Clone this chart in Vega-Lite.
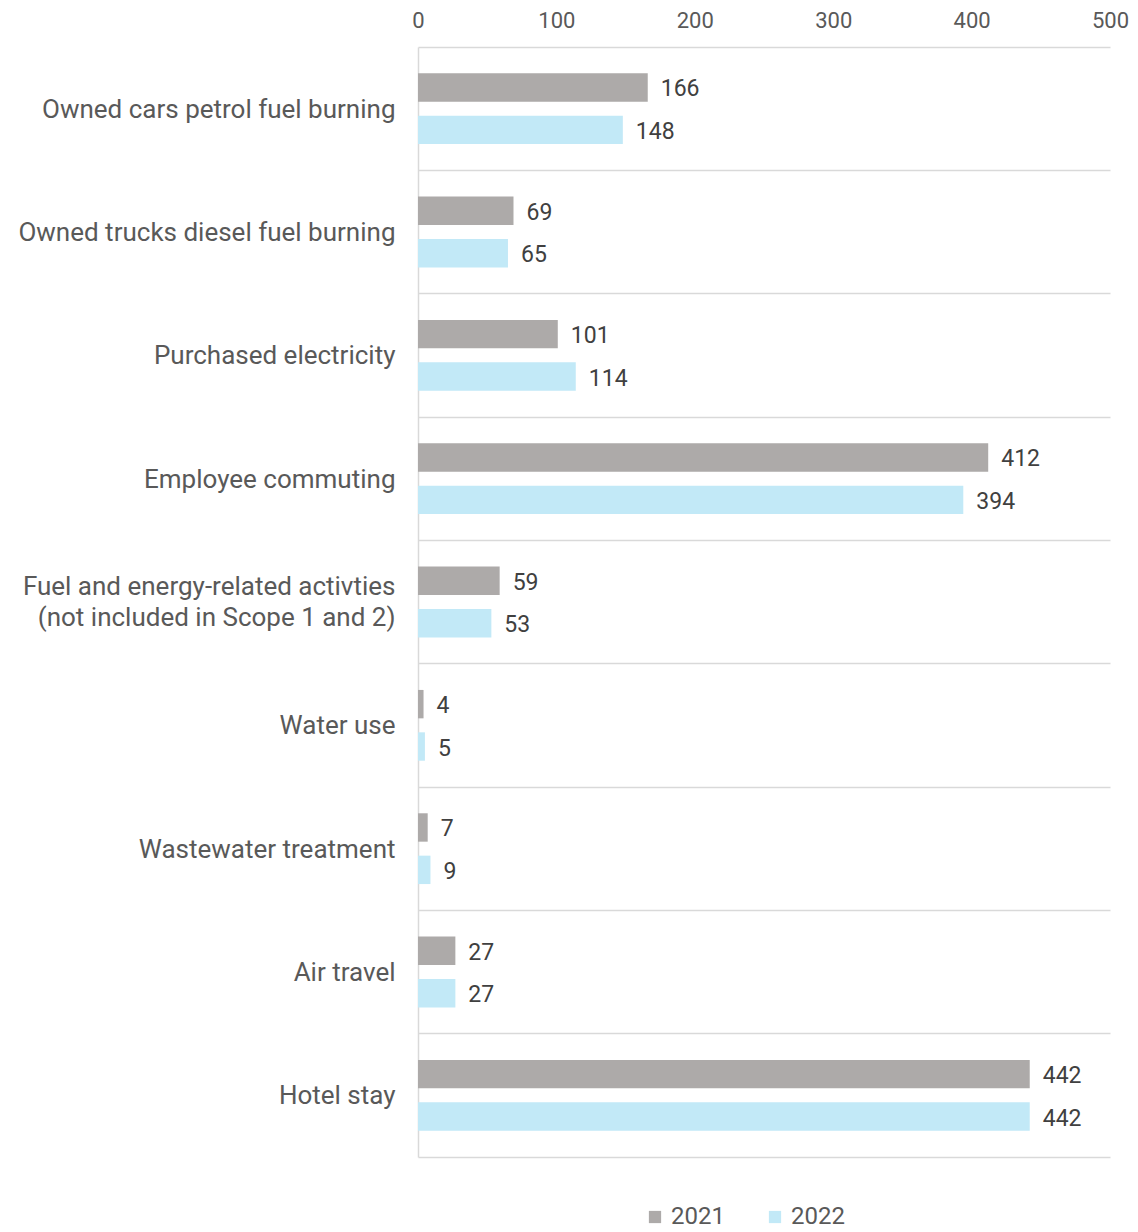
{
  "$schema": "https://vega.github.io/schema/vega-lite/v6.json",
  "autosize": {"type": "none"},
  "padding": {"left": 418, "top": 47, "right": 28, "bottom": 75},
  "width": 692,
  "height": 1110,
  "background": "white",
  "config": {
    "view": {"stroke": null},
    "font": "Roboto"
  },
  "data": {
    "values": [
      {"category": "Owned cars petrol fuel burning", "year": "2021", "value": 166},
      {"category": "Owned cars petrol fuel burning", "year": "2022", "value": 148},
      {"category": "Owned trucks diesel fuel burning", "year": "2021", "value": 69},
      {"category": "Owned trucks diesel fuel burning", "year": "2022", "value": 65},
      {"category": "Purchased electricity", "year": "2021", "value": 101},
      {"category": "Purchased electricity", "year": "2022", "value": 114},
      {"category": "Employee commuting", "year": "2021", "value": 412},
      {"category": "Employee commuting", "year": "2022", "value": 394},
      {"category": "Fuel and energy-related activties|(not included in Scope 1 and 2) ", "year": "2021", "value": 59},
      {"category": "Fuel and energy-related activties|(not included in Scope 1 and 2) ", "year": "2022", "value": 53},
      {"category": "Water use", "year": "2021", "value": 4},
      {"category": "Water use", "year": "2022", "value": 5},
      {"category": "Wastewater treatment", "year": "2021", "value": 7},
      {"category": "Wastewater treatment", "year": "2022", "value": 9},
      {"category": "Air travel ", "year": "2021", "value": 27},
      {"category": "Air travel ", "year": "2022", "value": 27},
      {"category": "Hotel stay", "year": "2021", "value": 442},
      {"category": "Hotel stay", "year": "2022", "value": 442}
    ]
  },
  "encoding": {
    "y": {
      "field": "category",
      "type": "nominal",
      "sort": null,
      "scale": {"paddingInner": 0, "paddingOuter": 0},
      "axis": {
        "title": null,
        "orient": "left",
        "domain": true,
        "domainColor": "#D9D9D9",
        "domainWidth": 1.5,
        "ticks": false,
        "grid": true,
        "gridColor": "#D9D9D9",
        "gridWidth": 1.5,
        "bandPosition": 1,
        "labelBound": false,
        "labelFontSize": 26,
        "labelColor": "#595959",
        "labelPadding": 23,
        "labelLimit": 400,
        "labelLineHeight": 31,
        "labelOffset": {"condition": {"test": "indexof(datum.value, '|') >= 0", "value": -15}, "value": 1},
        "labelExpr": "split(datum.label, '|')"
      }
    },
    "yOffset": {
      "field": "year",
      "type": "nominal",
      "scale": {"paddingInner": 0.33, "paddingOuter": 0.62}
    },
    "x": {
      "field": "value",
      "type": "quantitative",
      "scale": {"domain": [0, 500], "nice": false},
      "axis": {
        "title": null,
        "orient": "top",
        "values": [0, 100, 200, 300, 400, 500],
        "grid": false,
        "ticks": false,
        "domain": true,
        "domainColor": "#D9D9D9",
        "domainWidth": 1.5,
        "labelFontSize": 22,
        "labelColor": "#595959",
        "labelPadding": 15,
        "labelFlush": false
      }
    }
  },
  "layer": [
    {
      "mark": {"type": "bar"},
      "encoding": {
        "color": {
          "field": "year",
          "type": "nominal",
          "scale": {"domain": ["2021", "2022"], "range": ["#ADAAA9", "#C2E9F7"]},
          "legend": {
            "title": null,
            "orient": "none",
            "direction": "horizontal",
            "legendX": 225,
            "legendY": 1158,
            "symbolType": "square",
            "symbolSize": 150,
            "symbolStrokeWidth": 0,
            "labelFontSize": 24,
            "labelColor": "#595959",
            "labelOffset": 4,
            "columnPadding": 38
          }
        }
      }
    },
    {
      "mark": {"type": "text", "align": "left", "baseline": "middle", "dx": 13, "dy": 2, "fontSize": 23, "color": "#404040"},
      "encoding": {
        "text": {"field": "value", "type": "quantitative"}
      }
    }
  ]
}
